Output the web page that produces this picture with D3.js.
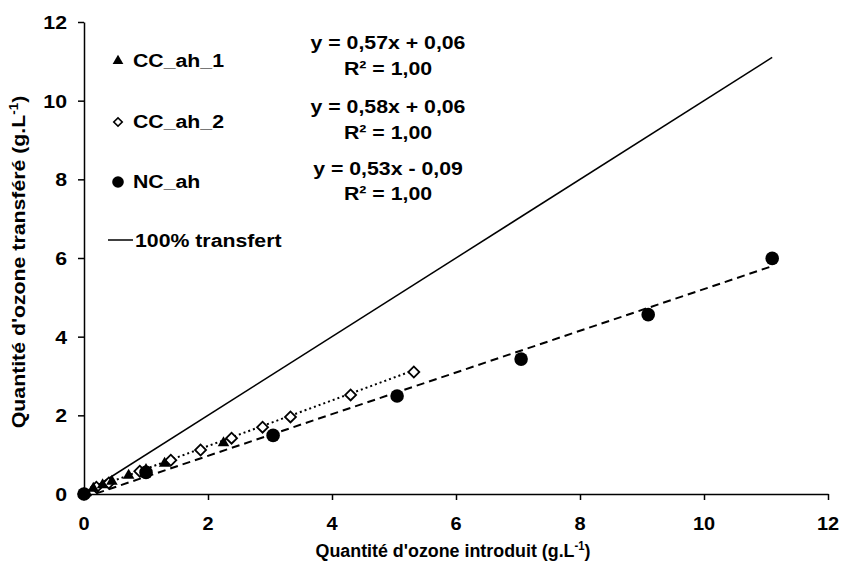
<!DOCTYPE html>
<html><head><meta charset="utf-8">
<script src="https://cdn.jsdelivr.net/npm/d3@7"></script>
<style>body{margin:0;background:#fff}svg{display:block;font-family:"Liberation Sans",Arial,sans-serif;font-weight:bold}</style>
</head><body><svg id="c" width="850" height="562"></svg>
<script>
const xTicks = [0, 2, 4, 6, 8, 10, 12];
const yTicks = [0, 2, 4, 6, 8, 10, 12];
const seriesNames = ["CC_ah_1", "CC_ah_2", "NC_ah"];
const cc1X = [0, 0.15, 0.3, 0.45, 0.72, 1.0, 1.3, 2.25];
const cc1Y = [0, 0.14, 0.23, 0.32, 0.47, 0.62, 0.78, 1.3];
const cc2X = [0, 0.2, 0.4, 0.9, 1.4, 1.88, 2.38, 2.88, 3.33, 4.3, 5.32];
const cc2Y = [0, 0.17, 0.28, 0.58, 0.86, 1.12, 1.42, 1.7, 1.96, 2.52, 3.1];
const ncX = [0, 1.0, 3.05, 5.05, 7.05, 9.1, 11.1];
const ncY = [0, 0.55, 1.49, 2.49, 3.43, 4.56, 5.99];
const trendSlopes = [0.57, 0.58, 0.53];
const trendIntercepts = [0.06, 0.06, -0.09];
const equations = ["y = 0,57x + 0,06", "y = 0,58x + 0,06", "y = 0,53x - 0,09"];
const r2Labels = ["R² = 1,00", "R² = 1,00", "R² = 1,00"];
const refLabel = "100% transfert";
const xTitle = "Quantité d'ozone introduit (g.L";
const yTitle = "Quantité d'ozone transféré (g.L";

const FS = 19, SX = 1.12;
const svg = d3.select("#c");
const x = d3.scaleLinear().domain([0, 12]).range([84, 828]);
const y = d3.scaleLinear().domain([0, 12]).range([494, 22]);

function T(g, tx, ty, str, anchor, extra, sx) {
  return g.append("text")
    .attr("transform", `translate(${tx},${ty}) ${extra || ""} scale(${sx || SX},1)`)
    .attr("text-anchor", anchor || "start")
    .style("font-size", FS + "px").text(str);
}

// axes
const xa = svg.append("g").attr("transform", "translate(0,494)")
  .call(d3.axisBottom(x).tickValues(xTicks).tickSize(6).tickSizeOuter(0).tickFormat(""));
const ya = svg.append("g").attr("transform", "translate(84,0)")
  .call(d3.axisLeft(y).tickValues(yTicks).tickSize(6).tickSizeOuter(0).tickFormat(""));
[xa, ya].forEach(a => {
  a.selectAll("path").attr("stroke", "#000").attr("stroke-width", 1.5);
  a.selectAll("line").attr("stroke", "#000").attr("stroke-width", 1.5);
});
xTicks.forEach(v => T(svg, x(v), 530, String(v), "middle", "", 1.05));
yTicks.forEach(v => T(svg, 67, y(v) + 7, String(v), "end"));

// axis titles
const xt = T(svg, 453, 557, xTitle, "middle", "", 0.94);
xt.append("tspan").attr("dy", -7).style("font-size", "12px").text("-1");
xt.append("tspan").attr("dy", 7).text(")");
const yt = T(svg, 25, 262, yTitle, "middle", "rotate(-90)");
yt.append("tspan").attr("dy", -7).style("font-size", "12px").text("-1");
yt.append("tspan").attr("dy", 7).text(")");

// 100% line
const line = d3.line().x(d => x(d[0])).y(d => y(d[1]));
const xmax = d3.max(ncX);
svg.append("path").attr("d", line([[0, 0], [xmax, xmax]])).attr("stroke", "#000").attr("stroke-width", 1.5).attr("fill", "none");
// trend lines
const trendX = [d3.max(cc1X), d3.max(cc2X), d3.max(ncX)];
const dashes = ["5,3", "2,3", "8,5"];
[1, 2].forEach(i => {
  svg.append("path").attr("d", line([[0, trendIntercepts[i]], [trendX[i], trendSlopes[i] * trendX[i] + trendIntercepts[i]]]))
    .attr("stroke", "#000").attr("stroke-width", 2).attr("stroke-dasharray", dashes[i]).attr("fill", "none");
});

// markers
const tri = d3.symbol().type(d3.symbolTriangle).size(58);
const dia = d3.symbol().type(d3.symbolSquare).size(60);
svg.append("g").selectAll("path").data(d3.zip(cc2X, cc2Y)).join("path")
  .attr("d", dia).attr("transform", d => `translate(${x(d[0])},${y(d[1])}) rotate(45)`)
  .attr("fill", "#fff").attr("stroke", "#000").attr("stroke-width", 1.8);
svg.append("g").selectAll("path").data(d3.zip(cc1X, cc1Y)).join("path")
  .attr("d", tri).attr("transform", d => `translate(${x(d[0])},${y(d[1])})`).attr("fill", "#000");
svg.append("g").selectAll("circle").data(d3.zip(ncX, ncY)).join("circle")
  .attr("cx", d => x(d[0])).attr("cy", d => y(d[1])).attr("r", 6.8).attr("fill", "#000");

// legend
const lg = svg.append("g");
lg.append("path").attr("d", d3.symbol().type(d3.symbolTriangle).size(50)).attr("transform", "translate(118,61)").attr("fill", "#000");
T(lg, 133, 67, seriesNames[0]);
lg.append("path").attr("d", d3.symbol().type(d3.symbolSquare).size(36)).attr("transform", "translate(118,122) rotate(45)")
  .attr("fill", "#fff").attr("stroke", "#000").attr("stroke-width", 1.6);
T(lg, 133, 128, seriesNames[1]);
lg.append("circle").attr("cx", 118).attr("cy", 182).attr("r", 5.8).attr("fill", "#000");
T(lg, 133, 188, seriesNames[2]);
lg.append("line").attr("x1", 108).attr("x2", 133).attr("y1", 240).attr("y2", 240).attr("stroke", "#000").attr("stroke-width", 1.5);
T(lg, 135, 247, refLabel);

// equations
const eqBase = [49, 113, 175];
const r2Base = [75, 139, 200];
equations.forEach((e, i) => {
  T(svg, 388, eqBase[i], e, "middle");
  T(svg, 388, r2Base[i], r2Labels[i], "middle");
});
</script></body></html>
